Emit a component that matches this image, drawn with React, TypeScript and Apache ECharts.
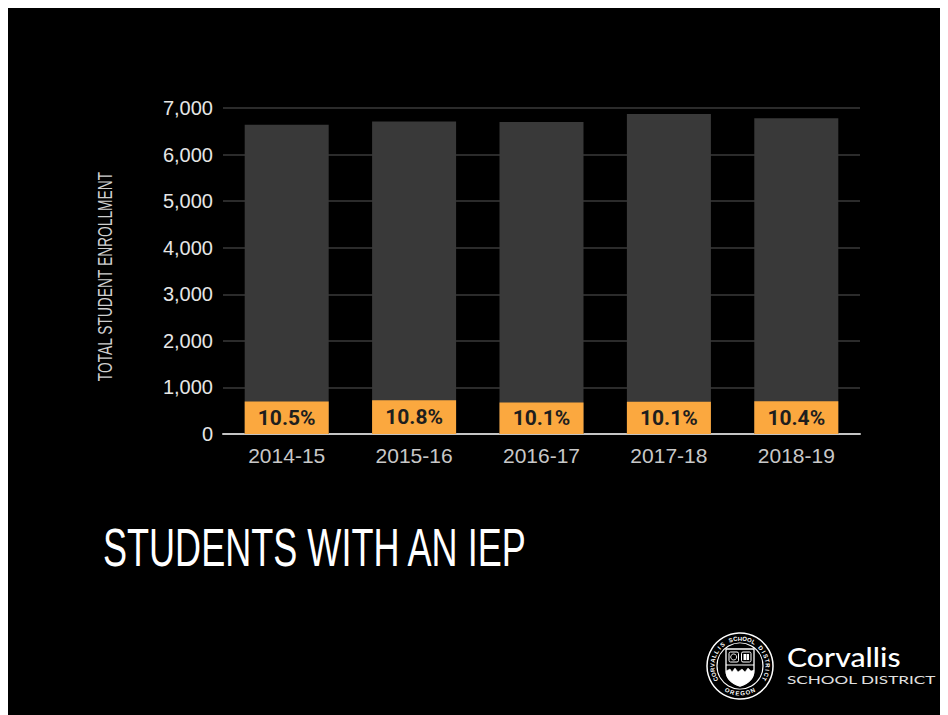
import React, { useEffect, useRef } from "react";
import * as echarts from "echarts";

const categories = ["2014-15", "2015-16", "2016-17", "2017-18", "2018-19"];
const totalEnrollment = [6640, 6710, 6700, 6870, 6780];
const iepStudents = [697, 725, 677, 694, 705];
const iepShareLabels = ["10.5%", "10.8%", "10.1%", "10.1%", "10.4%"];
const yMax = 7000;
const yInterval = 1000;
const yAxisTitle = "TOTAL STUDENT ENROLLMENT";
const slideTitle = "STUDENTS WITH AN IEP";
const logoName = "Corvallis";
const logoSub = "SCHOOL DISTRICT";
const sealTop = "CORVALLIS SCHOOL DISTRICT";
const sealBottom = "OREGON";

let registered = false;
function registerShapes() {
  if (registered) return;
  registered = true;
  echarts.graphic.registerShape(
    "shieldOutline",
    echarts.graphic.extendPath("M0 0 H28 V21 C28 30 21 35 14 37 C7 35 0 30 0 21 Z", {})
  );
  echarts.graphic.registerShape(
    "shieldLower",
    echarts.graphic.extendPath(
      "M0 22 L4 20 L6 23 L9 19 L12 23 L16 20 L19 23 L22 19 L25 22 L28 21 C28 30 21 35 14 37 C7 35 0 30 0 22 Z",
      {}
    )
  );
}

function sealLetters(cx: number, cy: number): any[] {
  const out: any[] = [];
  const r = 27.5;
  const n = sealTop.length;
  const span = 236;
  const step = span / (n - 1);
  for (let i = 0; i < n; i++) {
    const th = -span / 2 + i * step;
    const rad = (th * Math.PI) / 180;
    out.push({
      type: "text",
      x: cx + r * Math.sin(rad),
      y: cy - r * Math.cos(rad),
      rotation: -rad,
      style: {
        text: sealTop[i],
        fill: "#fff",
        font: "bold 6px 'Liberation Sans'",
        textAlign: "center",
        textVerticalAlign: "middle",
      },
      silent: true,
    });
  }
  const m = sealBottom.length;
  const bstep = 11;
  for (let i = 0; i < m; i++) {
    const th = 180 + ((m - 1) / 2) * bstep - i * bstep;
    const rad = (th * Math.PI) / 180;
    out.push({
      type: "text",
      x: cx + r * Math.sin(rad),
      y: cy - r * Math.cos(rad),
      rotation: -((th - 180) * Math.PI) / 180,
      style: {
        text: sealBottom[i],
        fill: "#fff",
        font: "bold 6px 'Liberation Sans'",
        textAlign: "center",
        textVerticalAlign: "middle",
      },
      silent: true,
    });
  }
  return out;
}

export default function App() {
  const ref = useRef<HTMLDivElement>(null);
  useEffect(() => {
    if (!ref.current) return;
    registerShapes();
    const chart = echarts.init(ref.current, undefined, { renderer: "svg" });
    const scx = 732;
    const scy = 658;
    const shX = scx - 14;
    const shY = scy - 17;
    chart.setOption({
      animation: false,
      backgroundColor: "#000",
      grid: { left: 215, right: 88, top: 100, bottom: 281, containLabel: false },
      xAxis: {
        type: "category",
        data: categories,
        axisLine: { show: true, lineStyle: { color: "#c4c4c4", width: 2 } },
        axisTick: { show: false },
        axisLabel: {
          color: "#c8c8c8",
          fontSize: 21,
          fontFamily: "'Liberation Sans', Arial, sans-serif",
          margin: 11,
        },
      },
      yAxis: {
        type: "value",
        min: 0,
        max: yMax,
        interval: yInterval,
        axisLine: { show: false },
        axisTick: { show: false },
        splitLine: { show: true, lineStyle: { color: "#3a3a3a", width: 1.5 } },
        axisLabel: {
          color: "#e6e6e6",
          fontSize: 20,
          fontFamily: "'Liberation Sans', Arial, sans-serif",
          margin: 10,
          formatter: (v: number) => v.toLocaleString("en-US"),
        },
      },
      series: [
        {
          name: "Total enrollment",
          type: "bar",
          data: totalEnrollment,
          barWidth: 84,
          barGap: "-100%",
          itemStyle: { color: "#393939" },
          z: 2,
        },
        {
          name: "Students with an IEP",
          type: "bar",
          data: iepStudents,
          barWidth: 84,
          itemStyle: { color: "#fba83f" },
          z: 3,
          label: {
            show: true,
            position: "inside",
            formatter: (p: any) => iepShareLabels[p.dataIndex],
            color: "#1e1e1e",
            fontSize: 21,
            fontWeight: "bold",
            fontFamily: "Roboto, 'Liberation Sans', sans-serif",
          },
        },
      ],
      graphic: [
        {
          type: "text",
          x: 97,
          y: 268.5,
          rotation: Math.PI / 2,
          scaleX: 0.657,
          style: {
            text: yAxisTitle,
            fill: "#cfcfcf",
            font: "21px 'Liberation Sans', sans-serif",
            textAlign: "center",
            textVerticalAlign: "middle",
          },
          silent: true,
        },
        {
          type: "text",
          x: 95,
          y: 539,
          scaleX: 0.668,
          style: {
            text: slideTitle,
            fill: "#ffffff",
            font: "54px 'Liberation Sans', sans-serif",
            textAlign: "left",
            textVerticalAlign: "middle",
          },
          silent: true,
        },
        {
          type: "circle",
          shape: { cx: scx, cy: scy, r: 33 },
          style: { fill: "none", stroke: "#fff", lineWidth: 1.5 },
          silent: true,
        },
        {
          type: "circle",
          shape: { cx: scx, cy: scy, r: 23 },
          style: { fill: "none", stroke: "#fff", lineWidth: 1.2 },
          silent: true,
        },
        ...sealLetters(scx, scy),
        {
          type: "shieldOutline",
          x: shX,
          y: shY,
          style: { fill: "#000", stroke: "#fff", lineWidth: 1.3 },
          silent: true,
        },
        {
          type: "shieldLower",
          x: shX,
          y: shY,
          style: { fill: "#fff", stroke: "#fff", lineWidth: 0.5 },
          silent: true,
        },
        {
          type: "rect",
          shape: { x: shX + 3, y: shY + 3, width: 9.5, height: 10, r: 1.5 },
          style: { fill: "none", stroke: "#fff", lineWidth: 1 },
          silent: true,
        },
        {
          type: "rect",
          shape: { x: shX + 15.5, y: shY + 3, width: 9.5, height: 10, r: 1.5 },
          style: { fill: "none", stroke: "#fff", lineWidth: 1 },
          silent: true,
        },
        {
          type: "circle",
          shape: { cx: shX + 7.7, cy: shY + 8, r: 3 },
          style: { fill: "none", stroke: "#fff", lineWidth: 0.9 },
          silent: true,
        },
        {
          type: "rect",
          shape: { x: shX + 17.5, y: shY + 5, width: 2.5, height: 6 },
          style: { fill: "#fff" },
          silent: true,
        },
        {
          type: "rect",
          shape: { x: shX + 20.5, y: shY + 5, width: 2.5, height: 6 },
          style: { fill: "#fff" },
          silent: true,
        },
        {
          type: "line",
          shape: { x1: shX, y1: shY + 16, x2: shX + 28, y2: shY + 16 },
          style: { stroke: "#fff", lineWidth: 1 },
          silent: true,
        },
        {
          type: "text",
          x: 779,
          y: 649,
          scaleX: 1.12,
          style: {
            text: logoName,
            fill: "#ffffff",
            font: "500 27px Lato, 'Open Sans', sans-serif",
            textAlign: "left",
            textVerticalAlign: "middle",
          },
          silent: true,
        },
        {
          type: "text",
          x: 779,
          y: 671.5,
          scaleX: 1.56,
          style: {
            text: logoSub,
            fill: "#e0e0e0",
            font: "11px Lato, 'Open Sans', sans-serif",
            textAlign: "left",
            textVerticalAlign: "middle",
          },
          silent: true,
        },
      ],
    });
    return () => chart.dispose();
  }, []);
  return <div ref={ref} style={{ width: 940, height: 707, background: "#000" }} />;
}
